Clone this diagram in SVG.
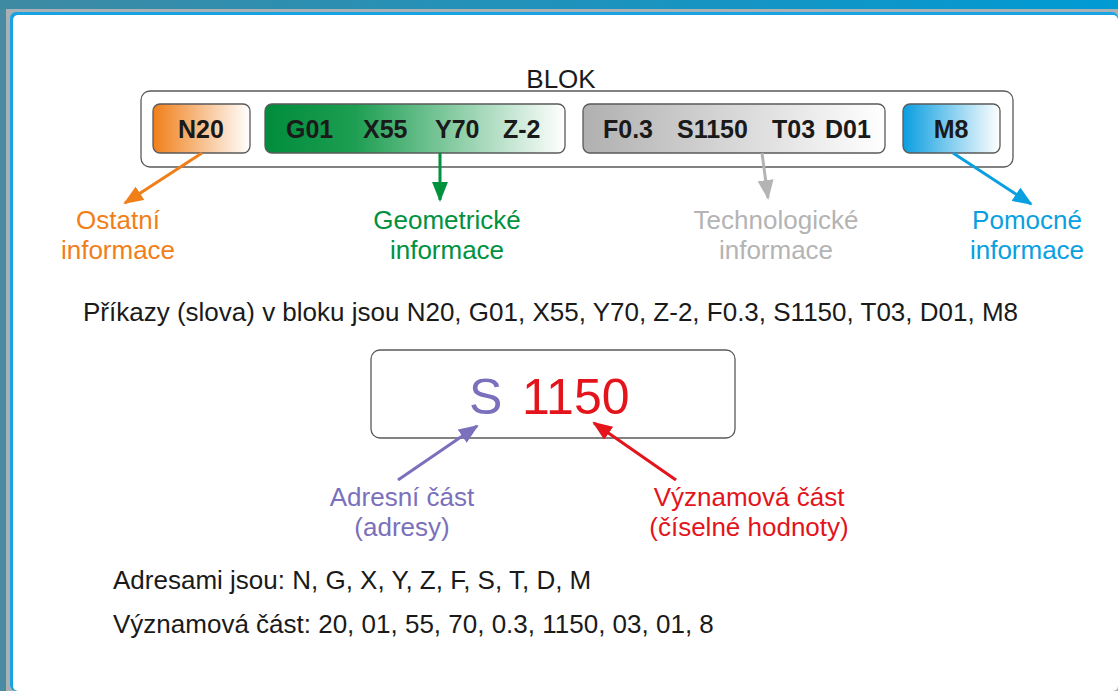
<svg xmlns="http://www.w3.org/2000/svg" width="1118" height="691" viewBox="0 0 1118 691">
<defs>
<linearGradient id="gTop" x1="0" y1="0" x2="1" y2="0"><stop offset="0" stop-color="#3e8aa3"/><stop offset="1" stop-color="#009ad4"/></linearGradient>
<linearGradient id="gOr" x1="0" y1="0" x2="1" y2="0"><stop offset="0" stop-color="#f07f1a"/><stop offset="1" stop-color="#ffffff"/></linearGradient>
<linearGradient id="gGr" x1="0" y1="0" x2="1" y2="0"><stop offset="0" stop-color="#008c3c"/><stop offset="0.3" stop-color="#1e9e52"/><stop offset="1" stop-color="#ffffff"/></linearGradient>
<linearGradient id="gGy" x1="0" y1="0" x2="1" y2="0"><stop offset="0" stop-color="#b0b0b0"/><stop offset="1" stop-color="#ffffff"/></linearGradient>
<linearGradient id="gBl" x1="0" y1="0" x2="1" y2="0"><stop offset="0" stop-color="#0a9ee0"/><stop offset="1" stop-color="#ffffff"/></linearGradient>
<marker id="aOr" viewBox="0 0 20 16" refX="18" refY="8" markerWidth="6.7" markerHeight="5.3" orient="auto" markerUnits="strokeWidth"><path d="M0,0 L20,8 L0,16 z" fill="#f07f1a"/></marker>
<marker id="aGr" viewBox="0 0 20 16" refX="18" refY="8" markerWidth="6.7" markerHeight="5.3" orient="auto" markerUnits="strokeWidth"><path d="M0,0 L20,8 L0,16 z" fill="#00923f"/></marker>
<marker id="aGy" viewBox="0 0 20 16" refX="18" refY="8" markerWidth="6.7" markerHeight="5.3" orient="auto" markerUnits="strokeWidth"><path d="M0,0 L20,8 L0,16 z" fill="#b4b4b4"/></marker>
<marker id="aBl" viewBox="0 0 20 16" refX="18" refY="8" markerWidth="6.7" markerHeight="5.3" orient="auto" markerUnits="strokeWidth"><path d="M0,0 L20,8 L0,16 z" fill="#0aa0e0"/></marker>
<marker id="aPu" viewBox="0 0 20 16" refX="18" refY="8" markerWidth="6.7" markerHeight="5.3" orient="auto" markerUnits="strokeWidth"><path d="M0,0 L20,8 L0,16 z" fill="#7a70bb"/></marker>
<marker id="aRd" viewBox="0 0 20 16" refX="18" refY="8" markerWidth="6.7" markerHeight="5.3" orient="auto" markerUnits="strokeWidth"><path d="M0,0 L20,8 L0,16 z" fill="#e3141b"/></marker>
</defs>
<style>
text{font-family:"Liberation Sans",Arial,sans-serif;}
.b{font-weight:bold;font-size:25px;fill:#1a1a1a;}
.lbl{font-size:26px;text-anchor:middle;}
.t{font-size:26px;fill:#1a1a1a;}
.box{stroke:#5a5a5a;stroke-width:1.3;}
.ln{fill:none;stroke-width:3;}
</style>
<!-- frame -->
<rect x="0" y="0" width="1118" height="691" fill="#4a8aa3"/>
<rect x="0" y="0" width="1118" height="9" fill="url(#gTop)"/>
<rect x="6" y="9" width="1112" height="682" fill="#a9b1b5"/>
<rect x="10" y="12" width="1108" height="679" rx="6" fill="#1aa3e3"/>
<rect x="13" y="15" width="1105" height="676" rx="5" fill="#ffffff"/>

<g id="blok">
<text x="561" y="88" font-size="26" text-anchor="middle" fill="#1a1a1a">BLOK</text>
<rect x="141" y="91" width="872" height="76" rx="9" fill="#ffffff" class="box"/>
</g>
<g id="n20">
<rect x="153" y="104" width="97" height="49" rx="7" fill="url(#gOr)" class="box"/>
<text x="201" y="138" class="b" text-anchor="middle">N20</text>
</g>
<g id="geom">
<rect x="265" y="104" width="300" height="49" rx="7" fill="url(#gGr)" class="box"/>
<text x="286" y="138" class="b">G01</text>
<text x="363" y="138" class="b">X55</text>
<text x="435" y="138" class="b">Y70</text>
<text x="503" y="138" class="b">Z-2</text>
</g>
<g id="tech">
<rect x="583" y="104" width="302" height="49" rx="7" fill="url(#gGy)" class="box"/>
<text x="603" y="138" class="b">F0.3</text>
<text x="677" y="138" class="b">S1150</text>
<text x="772" y="138" class="b">T03</text>
<text x="825" y="138" class="b">D01</text>
</g>
<g id="m8">
<rect x="903" y="104" width="97" height="49" rx="7" fill="url(#gBl)" class="box"/>
<text x="951" y="138" class="b" text-anchor="middle">M8</text>
</g>

<g id="ostatni" fill="#f07f1a">
<text x="118" y="229" class="lbl">Ostatní</text>
<text x="118" y="259" class="lbl">informace</text>
</g>
<g id="geometricke" fill="#00923f">
<text x="447" y="229" class="lbl">Geometrické</text>
<text x="447" y="259" class="lbl">informace</text>
</g>
<g id="technologicke" fill="#b4b4b4">
<text x="776" y="229" class="lbl">Technologické</text>
<text x="776" y="259" class="lbl">informace</text>
</g>
<g id="pomocne" fill="#0aa0e0">
<text x="1027" y="229" class="lbl">Pomocné</text>
<text x="1027" y="259" class="lbl">informace</text>
</g>

<text x="83" y="321" class="t">Příkazy (slova) v bloku jsou N20, G01, X55, Y70, Z-2, F0.3, S1150, T03, D01, M8</text>

<g id="s1150">
<rect x="371" y="350" width="364" height="88" rx="9" fill="#ffffff" class="box"/>
<text x="469" y="414" font-size="50" fill="#7a70bb">S</text>
<text x="522" y="414" font-size="50" fill="#e3141b">1150</text>
</g>

<g id="adresni" fill="#7a70bb">
<text x="402" y="506" class="lbl">Adresní část</text>
<text x="402" y="536" class="lbl">(adresy)</text>
</g>
<g id="vyznamova" fill="#e3141b">
<text x="749" y="506" class="lbl">Významová část</text>
<text x="749" y="536" class="lbl">(číselné hodnoty)</text>
</g>

<text x="113" y="589" class="t">Adresami jsou: N, G, X, Y, Z, F, S, T, D, M</text>
<text x="113" y="633" class="t">Významová část: 20, 01, 55, 70, 0.3, 1150, 03, 01, 8</text>

<g id="connectors">
<line x1="202" y1="153" x2="125" y2="203" stroke="#f07f1a" class="ln" marker-end="url(#aOr)"/>
<line x1="440" y1="153" x2="440" y2="200" stroke="#00923f" class="ln" marker-end="url(#aGr)"/>
<line x1="762" y1="153" x2="768" y2="198" stroke="#b4b4b4" class="ln" marker-end="url(#aGy)"/>
<line x1="953" y1="153" x2="1031" y2="204" stroke="#0aa0e0" class="ln" marker-end="url(#aBl)"/>
<line x1="398" y1="480" x2="477" y2="426" stroke="#7a70bb" class="ln" marker-end="url(#aPu)"/>
<line x1="676" y1="480" x2="594" y2="423" stroke="#e3141b" class="ln" marker-end="url(#aRd)"/>
</g>
</svg>
